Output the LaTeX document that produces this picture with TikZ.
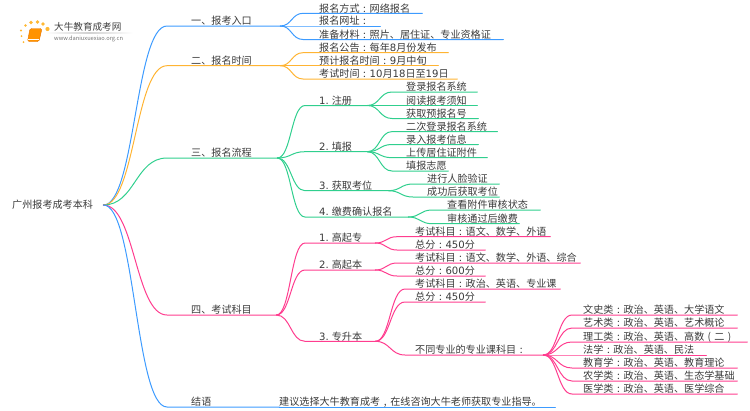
\documentclass[tikz,border=0pt]{standalone}
\usepackage{fontspec}
\setmainfont{Noto Sans CJK SC}
\newfontfamily\latfont{DejaVu Sans}
\usetikzlibrary{calc}
\definecolor{cblue}{HTML}{3D9BFF}
\definecolor{corange}{HTML}{FFB433}
\definecolor{cgreen}{HTML}{30CF8E}
\definecolor{cpink}{HTML}{FF3D8F}
\definecolor{ctext}{HTML}{3A3A3A}
\newcommand\cc{\makebox[1em][c]{:}}
\newcommand\ccomma{\makebox[1em][c]{,}}
\newcommand\lpar{\makebox[1em][c]{(}}
\newcommand\rpar{\makebox[1em][c]{)}}
\newcommand\dg[1]{{\latfont #1}}
\tikzset{
  lab/.style={inner sep=0pt,anchor=south west,text=ctext,font=\fontsize{10.1}{12}\selectfont},
  wire/.style={line width=1pt,line cap=round,line join=round},
}
% name, parent point, x0, y, x1, text x, colour, text
\newcommand\mmleaf[8]{%
  \node[lab] (#1) at (#3,#4) {\makebox[\dimexpr #5pt-#3pt\relax][l]{\hspace*{\dimexpr #6pt-#3pt\relax}\raisebox{1pt}[10pt][0pt]{#8}}};
  \draw[wire,#7] (#2) .. controls ($(#2)!.5!(#1.south west |- #2)$) and ($(#2 |- #1.south west)!.5!(#1.south west)$) .. (#1.south west) -- (#1.south east);
}
\begin{document}
\begin{tikzpicture}[x=1pt,y=-1pt]
\useasboundingbox (0,0) rectangle (750,410);
% logo
\foreach \n/\px/\py/\r in {s1/23.5/42/1.0,s2/21.5/36/1.0,s3/21/30.5/1.2,s4/25.5/25.5/1.4,s5/31/22.5/1.8,s6/37.5/22/1.9,s7/43/24/1.9,s8/47.5/29/2.1}
  \fill[orange!70!yellow,opacity=.8] (\px,\py) circle (\r pt);
\draw[orange!90!black,fill=orange!85!yellow,rounded corners=1.5pt] (30,28.5) -- (42,28.5) -- (39,41.5) -- (27.5,41.5) -- cycle;
\draw[white,line width=.6pt] (28.2,39) -- (39.2,39);
\shade[left color=white,right color=white,middle color=black!18] (45,32.8) rectangle (133,33.5);
\node[anchor=west,inner sep=0pt,text=black!75,font=\fontsize{9.6}{11}\selectfont] (logotitle) at (54,27) {大牛教育成考网};
\node[anchor=west,inner sep=0pt,text=black!55,font=\fontsize{5.7}{7}\selectfont] (logourl) at (54,39) {www.daniuxuexiao.org.cn};
% root
\node[inner sep=0pt,anchor=west,text=ctext,font=\fontsize{10.1}{12}\selectfont] (root) at (12,205) {\makebox[91pt][l]{\raisebox{-1.5pt}{广州报考成考本科}}};
% one
\mmleaf{a1}{root.east}{167}{26}{280}{191}{cblue}{一、报考入口}
\mmleaf{a11}{a1.south east}{303}{13.3}{422}{319}{cblue}{报名方式\cc 网络报名}
\mmleaf{a12}{a1.south east}{303}{26}{380}{319}{cblue}{报名网址\cc}
\mmleaf{a13}{a1.south east}{303}{39.5}{503}{319}{cblue}{准备材料\cc 照片、居住证、专业资格证}
% two
\mmleaf{a2}{root.east}{167}{65.7}{280}{191}{corange}{二、报名时间}
\mmleaf{a21}{a2.south east}{303}{52.7}{448}{319}{corange}{报名公告\cc 每年\dg{8}月份发布}
\mmleaf{a22}{a2.south east}{303}{65.7}{438}{319}{corange}{预计报名时间\cc\dg{9}月中旬}
\mmleaf{a23}{a2.south east}{303}{79}{457}{319}{corange}{考试时间\cc\dg{10}月\dg{18}日至\dg{19}日}
% three
\mmleaf{a3}{root.east}{167}{158}{277}{191}{cgreen}{三、报名流程}
\mmleaf{b1}{a3.south east}{305}{105.5}{367}{319}{cgreen}{\dg{1.} 注册}
\mmleaf{b11}{b1.south east}{392}{92}{477}{406}{cgreen}{登录报名系统}
\mmleaf{b12}{b1.south east}{392}{105.5}{477}{406}{cgreen}{阅读报考须知}
\mmleaf{b13}{b1.south east}{392}{118.5}{478}{406}{cgreen}{获取预报名号}
\mmleaf{b2}{a3.south east}{305}{151.7}{367}{319}{cgreen}{\dg{2.} 填报}
\mmleaf{b21}{b2.south east}{392}{131.6}{497}{406}{cgreen}{二次登录报名系统}
\mmleaf{b22}{b2.south east}{392}{144.5}{478}{406}{cgreen}{录入报考信息}
\mmleaf{b23}{b2.south east}{392}{157.7}{487}{406}{cgreen}{上传居住证附件}
\mmleaf{b24}{b2.south east}{392}{171}{448}{406}{cgreen}{填报志愿}
\mmleaf{b3}{a3.south east}{305}{190.7}{388}{319}{cgreen}{\dg{3.} 获取考位}
\mmleaf{b31}{b3.south east}{413}{184}{499}{427}{cgreen}{进行人脸验证}
\mmleaf{b32}{b3.south east}{413}{197}{499}{427}{cgreen}{成功后获取考位}
\mmleaf{b4}{a3.south east}{305}{217}{408}{319}{cgreen}{\dg{4.} 缴费确认报名}
\mmleaf{b41}{b4.south east}{432}{210}{540}{447}{cgreen}{查看附件审核状态}
\mmleaf{b42}{b4.south east}{432}{223.7}{519}{447}{cgreen}{审核通过后缴费}
% four
\mmleaf{a4}{root.east}{167}{315}{276}{191}{cpink}{四、考试科目}
\mmleaf{c1}{a4.south east}{305}{243}{375}{319}{cpink}{\dg{1.} 高起专}
\mmleaf{c11}{c1.south east}{397}{236.7}{550}{415}{cpink}{考试科目\cc 语文、数学、外语}
\mmleaf{c12}{c1.south east}{397}{250}{485}{415}{cpink}{总分\cc\dg{450}分}
\mmleaf{c2}{a4.south east}{305}{270}{375}{319}{cpink}{\dg{2.} 高起本}
\mmleaf{c21}{c2.south east}{397}{263}{580}{415}{cpink}{考试科目\cc 语文、数学、外语、综合}
\mmleaf{c22}{c2.south east}{397}{276}{485}{415}{cpink}{总分\cc\dg{600}分}
\mmleaf{c3}{a4.south east}{305}{341.3}{375}{319}{cpink}{\dg{3.} 专升本}
\mmleaf{c31}{c3.south east}{405}{289}{560}{415}{cpink}{考试科目\cc 政治、英语、专业课}
\mmleaf{c32}{c3.south east}{405}{302}{485}{415}{cpink}{总分\cc\dg{450}分}
\mmleaf{c33}{c3.south east}{405}{355}{543}{415}{cpink}{不同专业的专业课科目\cc}
\mmleaf{d1}{c33.south east}{572}{315}{737}{583}{cpink}{文史类\cc 政治、英语、大学语文}
\mmleaf{d2}{c33.south east}{572}{328}{737}{583}{cpink}{艺术类\cc 政治、英语、艺术概论}
\mmleaf{d3}{c33.south east}{572}{342}{747}{583}{cpink}{理工类\cc 政治、英语、高数\lpar 二\rpar}
\mmleaf{d4}{c33.south east}{572}{355}{706}{583}{cpink}{法学\cc 政治、英语、民法}
\mmleaf{d5}{c33.south east}{572}{368}{737}{583}{cpink}{教育学\cc 政治、英语、教育理论}
\mmleaf{d6}{c33.south east}{572}{381}{737}{583}{cpink}{农学类\cc 政治、英语、生态学基础}
\mmleaf{d7}{c33.south east}{572}{394}{737}{583}{cpink}{医学类\cc 政治、英语、医学综合}
% conclusion
\mmleaf{a5}{root.east}{167}{407}{279}{191}{cblue}{结语}
\node[lab] (a51) at (279,407) {\makebox[276pt][l]{\raisebox{1pt}[10pt][0pt]{建议选择大牛教育成考\ccomma 在线咨询大牛老师获取专业指导。}}};
\draw[wire,cblue] (a5.south east) -- (a51.south east);
\end{tikzpicture}
\end{document}
